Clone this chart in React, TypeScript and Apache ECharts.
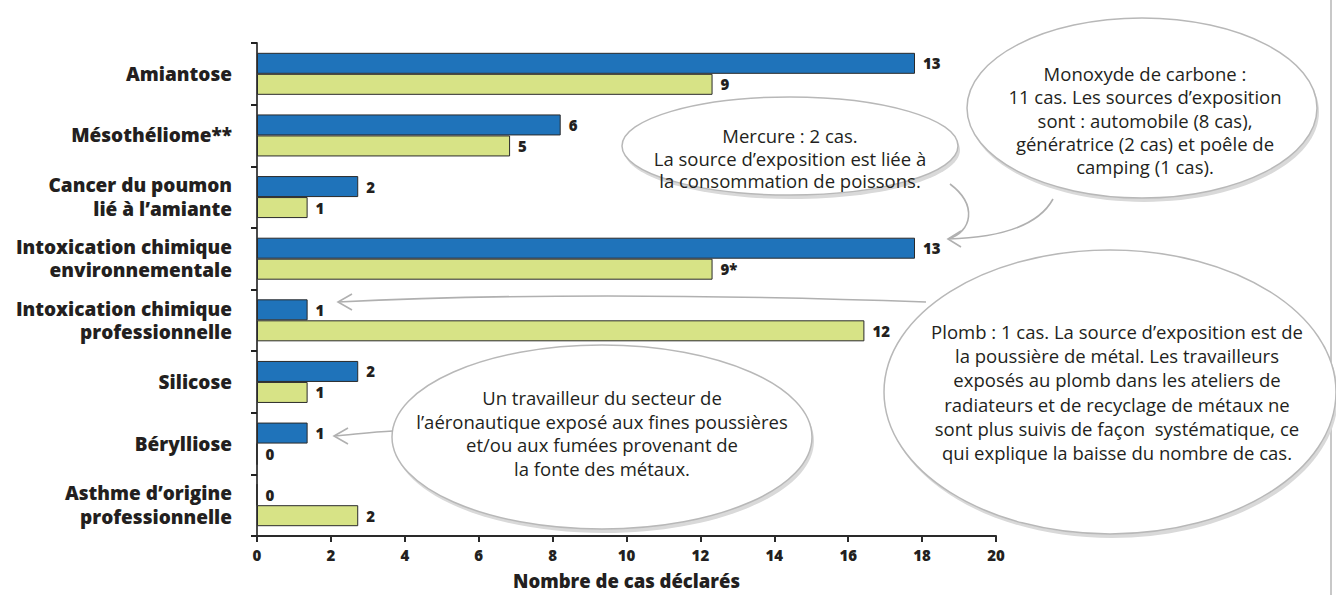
import React, { useEffect, useRef } from "react";
import * as echarts from "echarts";

const categories = [
  "Amiantose",
  "Mésothéliome**",
  "Cancer du poumon\nlié à l’amiante",
  "Intoxication chimique\nenvironnementale",
  "Intoxication chimique\nprofessionnelle",
  "Silicose",
  "Bérylliose",
  "Asthme d’origine\nprofessionnelle",
];
const blueValues = [13, 6, 2, 13, 1, 2, 1, 0];
const greenValues = [9, 5, 1, 9, 12, 1, 0, 2];
const blueLabels = ["13", "6", "2", "13", "1", "2", "1", "0"];
const greenLabels = ["9", "5", "1", "9*", "12", "1", "0", "2"];
const axisMin = 0;
const axisMax = 20;
const axisInterval = 2;
const barScaleMax = 14.6;
const axisTitle = "Nombre de cas déclarés";

const noteMercure = "Mercure : 2 cas.\nLa source d’exposition est liée à\nla consommation de poissons.";
const noteMonoxyde =
  "Monoxyde de carbone :\n11 cas. Les sources d’exposition\nsont : automobile (8 cas),\ngénératrice (2 cas) et poêle de\ncamping (1 cas).";
const notePlomb =
  "Plomb : 1 cas. La source d’exposition est de\nla poussière de métal. Les travailleurs\nexposés au plomb dans les ateliers de\nradiateurs et de recyclage de métaux ne\nsont plus suivis de façon  systématique, ce\nqui explique la baisse du nombre de cas.";
const noteBeryl =
  "Un travailleur du secteur de\nl’aéronautique exposé aux fines poussières\net/ou aux fumées provenant de\nla fonte des métaux.";

const FONT = '"Open Sans", "Noto Sans", sans-serif';
const TEXT = "#231f20";
const CALLOUT_STROKE = "#b8b8b8";
const ARROW = "#b0b0b0";

function bubble(cx: number, cy: number, rx: number, ry: number) {
  return [
    {
      type: "ellipse",
      shape: { cx: cx + 2, cy: cy + 4, rx, ry },
      style: { fill: "#d9d9d9", stroke: "none" },
      z: 10,
      silent: true,
    },
    {
      type: "ellipse",
      shape: { cx, cy, rx, ry },
      style: { fill: "#ffffff", stroke: CALLOUT_STROKE, lineWidth: 1.5 },
      z: 11,
      silent: true,
    },
  ];
}

function note(text: string, x: number, y: number, lineHeight: number) {
  return {
    type: "text",
    x,
    y,
    z: 12,
    silent: true,
    style: {
      text,
      fill: TEXT,
      font: `400 18.5px ${FONT}`,
      textAlign: "center",
      textVerticalAlign: "middle",
      lineHeight,
    },
  };
}

function head(x: number, y: number, dx: number, dy: number) {
  return {
    type: "polyline",
    z: 13,
    silent: true,
    shape: { points: [[x + dx, y - dy], [x, y], [x + dx, y + dy]] },
    style: { stroke: ARROW, lineWidth: 1.6, fill: "none" },
  };
}

function curve(x1: number, y1: number, c1x: number, c1y: number, c2x: number, c2y: number, x2: number, y2: number) {
  return {
    type: "bezierCurve",
    z: 13,
    silent: true,
    shape: { x1, y1, cpx1: c1x, cpy1: c1y, cpx2: c2x, cpy2: c2y, x2, y2 },
    style: { stroke: ARROW, lineWidth: 1.6, fill: "none" },
  };
}

export default function App() {
  const ref = useRef<HTMLDivElement>(null);
  useEffect(() => {
    if (!ref.current) return;
    const chart = echarts.init(ref.current, null, { renderer: "svg" });
    const labelStyle = {
      show: true,
      position: "right",
      distance: 8,
      color: TEXT,
      fontFamily: FONT,
      fontWeight: 800,
      fontSize: 15,
    };
    chart.setOption({
      animation: false,
      backgroundColor: "#ffffff",
      grid: { left: 257, right: 340, top: 43, bottom: 57, containLabel: false },
      xAxis: [
        {
          type: "value",
          min: axisMin,
          max: axisMax,
          interval: axisInterval,
          position: "bottom",
          name: axisTitle,
          nameLocation: "middle",
          nameGap: 35,
          nameTextStyle: { color: TEXT, fontFamily: FONT, fontWeight: 800, fontSize: 18.5 },
          axisLine: { show: true, lineStyle: { color: "#2a2a2a", width: 2 } },
          axisTick: { show: true, length: 6, lineStyle: { color: "#2a2a2a", width: 2 } },
          axisLabel: { color: TEXT, fontFamily: FONT, fontWeight: 800, fontSize: 15, margin: 11 },
          splitLine: { show: false },
        },
        {
          type: "value",
          min: 0,
          max: barScaleMax,
          show: false,
          position: "top",
          splitLine: { show: false },
        },
      ],
      yAxis: {
        type: "category",
        inverse: true,
        data: categories,
        axisLine: { show: true, lineStyle: { color: "#4a4a4a", width: 2 } },
        axisTick: { show: true, length: 6, lineStyle: { color: "#222", width: 2 } },
        axisLabel: {
          color: TEXT,
          fontFamily: FONT,
          fontWeight: 800,
          fontSize: 19,
          lineHeight: 23.5,
          margin: 25,
          align: "right",
        },
        splitLine: { show: false },
      },
      series: [
        {
          type: "bar",
          name: "Série bleue",
          xAxisIndex: 1,
          data: blueValues,
          barWidth: 21,
          barGap: "0%",
          itemStyle: { color: "#1f73ba", borderColor: "#2a2a2a", borderWidth: 1 },
          label: { ...labelStyle, formatter: (p: any) => blueLabels[p.dataIndex] },
        },
        {
          type: "bar",
          name: "Série verte",
          xAxisIndex: 1,
          data: greenValues,
          barWidth: 21,
          barGap: "0%",
          itemStyle: { color: "#d7e386", borderColor: "#2a2a2a", borderWidth: 1 },
          label: { ...labelStyle, formatter: (p: any) => greenLabels[p.dataIndex] },
        },
      ],
      graphic: {
        elements: [
          {
            type: "line",
            silent: true,
            shape: { x1: 1331, y1: 0, x2: 1331, y2: 595 },
            style: { stroke: "#c8c8c8", lineWidth: 2 },
            z: 5,
          },
          ...bubble(1142, 108, 175, 90),
          note(noteMonoxyde, 1145, 120, 23.3),
          ...bubble(790, 146, 168, 49),
          note(noteMercure, 790, 158, 22.5),
          ...bubble(1110, 392, 226, 142),
          note(notePlomb, 1117, 392, 24.2),
          ...bubble(602, 437, 210, 92),
          note(noteBeryl, 602, 433, 23.7),
          curve(950, 184, 978, 205, 972, 232, 948, 239),
          curve(1053, 199, 1035, 232, 985, 238, 948, 239),
          head(948, 239, 13, 8),
          curve(926, 302, 700, 294, 500, 294, 338, 302),
          head(338, 302, 14, 8),
          curve(393, 431, 370, 432, 350, 435, 334, 436),
          head(334, 436, 14, 8),
        ],
      },
    });
    return () => chart.dispose();
  }, []);
  return (
    <div
      ref={ref}
      style={{ position: "absolute", left: 0, top: 0, width: 1336, height: 595, background: "#fff" }}
    />
  );
}
